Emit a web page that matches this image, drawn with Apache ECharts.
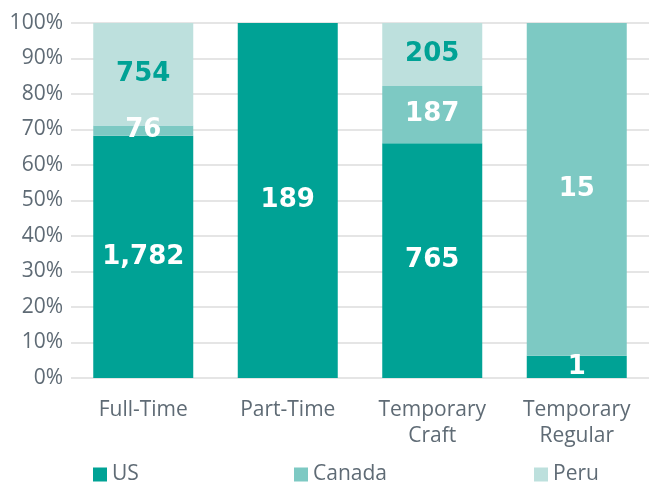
<!DOCTYPE html>
<html>
<head>
<meta charset="utf-8">
<script src="https://cdn.jsdelivr.net/npm/echarts@6/dist/echarts.min.js"></script>
<style>
html,body{margin:0;padding:0;background:#fff;}
#main{width:652px;height:483px;}
</style>
</head>
<body>
<div id="main"></div>
<script>
var categories = ['Full-Time', 'Part-Time', 'Temporary\nCraft', 'Temporary\nRegular'];
var usCounts = [1782, 189, 765, 1];
var canadaCounts = [76, 0, 187, 15];
var peruCounts = [754, 0, 205, 0];
var yTicks = [0, 10, 20, 30, 40, 50, 60, 70, 80, 90, 100];

var totals = categories.map(function (c, i) {
  return usCounts[i] + canadaCounts[i] + peruCounts[i];
});
function pct(arr) {
  return arr.map(function (v, i) { return v / totals[i] * 100; });
}
function fmt(n) {
  return String(n).replace(/\B(?=(\d{3})+(?!\d))/g, ',');
}

var font = '"Open Sans", Lato, sans-serif';
var colors = ['#00a295', '#7dc9c3', '#bde0dd'];

function makeSeries(name, counts, color, labelColor) {
  return {
    name: name,
    type: 'bar',
    stack: 'all',
    barWidth: 100,
    itemStyle: { color: color },
    data: pct(counts),
    label: {
      show: true,
      position: 'inside',
      color: labelColor,
      fontFamily: '"DejaVu Sans", sans-serif',
      fontWeight: 'bold',
      fontSize: 26,
      formatter: function (p) {
        var v = counts[p.dataIndex];
        return v ? fmt(v) : '';
      }
    }
  };
}

var chart = echarts.init(document.getElementById('main'));
var legendBase = {
  top: 464,
  padding: 0,
  itemWidth: 14,
  itemHeight: 14,
  itemGap: 6,
  icon: 'rect',
  textStyle: { fontFamily: font, fontSize: 21, color: '#5f6b75' }
};
chart.setOption({
  animation: false,
  grid: { left: 71, right: 3, top: 23, bottom: 105 },
  legend: [
    Object.assign({ left: 93, data: ['US'] }, legendBase),
    Object.assign({ left: 294, data: ['Canada'] }, legendBase),
    Object.assign({ left: 534, data: ['Peru'] }, legendBase)
  ],
  xAxis: {
    type: 'category',
    data: categories,
    axisLine: { show: false },
    axisTick: { show: false },
    axisLabel: {
      margin: 19,
      fontFamily: font,
      fontSize: 21,
      lineHeight: 26,
      color: '#5f6b75',
      interval: 0
    }
  },
  yAxis: {
    type: 'value',
    min: 0,
    max: 100,
    interval: 10,
    axisLabel: {
      margin: 8,
      fontFamily: font,
      fontSize: 21,
      color: '#5f6b75',
      formatter: function (v) { return yTicks.indexOf(v) >= 0 ? v + '%' : ''; }
    },
    splitLine: { lineStyle: { color: '#dcdcdc', width: 1.5 } }
  },
  series: [
    makeSeries('US', usCounts, colors[0], '#ffffff'),
    makeSeries('Canada', canadaCounts, colors[1], '#ffffff'),
    makeSeries('Peru', peruCounts, colors[2], '#00a295')
  ]
});
</script>
</body>
</html>
